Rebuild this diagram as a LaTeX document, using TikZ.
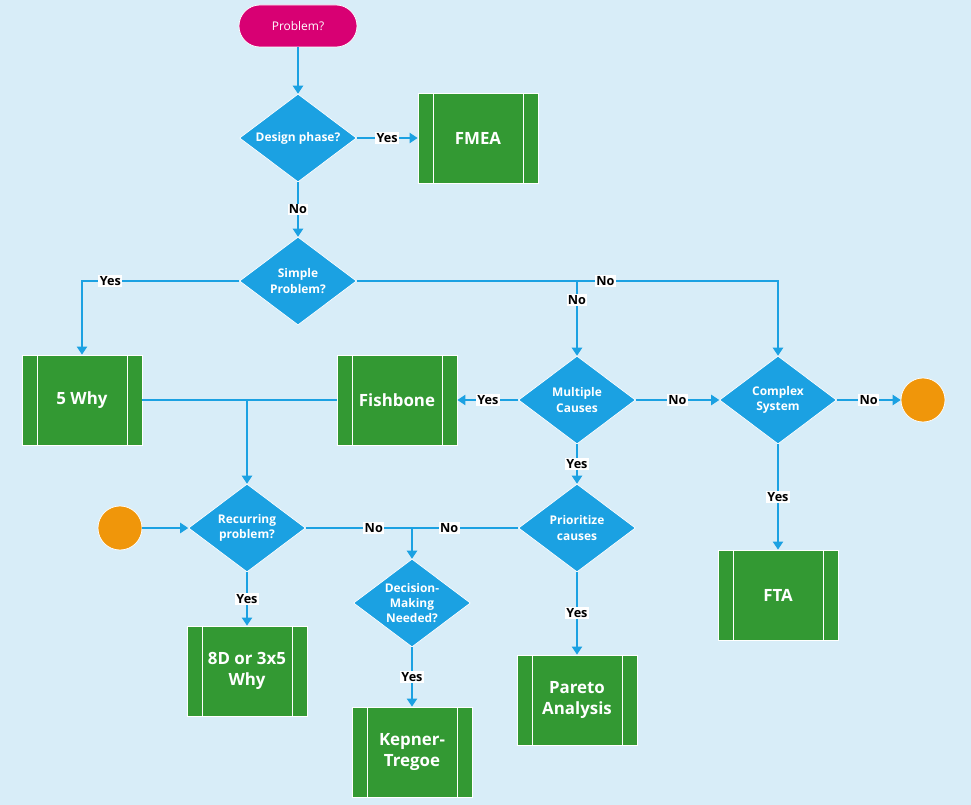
\documentclass[tikz,border=0pt]{standalone}
\usepackage{fontspec}
\setmainfont{Open Sans}
\usepackage{xcolor}
\usepackage{tikz}
\usetikzlibrary{arrows.meta,positioning,shapes.geometric,backgrounds}
\definecolor{pagebg}{HTML}{D8EDF8}
\definecolor{decblue}{HTML}{1BA1E2}
\definecolor{toolgreen}{HTML}{339933}
\definecolor{startpink}{HTML}{D80073}
\definecolor{endorange}{HTML}{F0960A}
\tikzset{
  tool/.style   ={rectangle,draw=white,line width=0.6pt,fill=toolgreen,
                  minimum width=30mm,minimum height=22.5mm,align=center,text=white,
                  font=\fontsize{12}{14.5}\selectfont\bfseries,
                  path picture={\draw[white,line width=0.6pt]
                    ([xshift=3.75mm]path picture bounding box.north west) -- ([xshift=3.75mm]path picture bounding box.south west)
                    ([xshift=-3.75mm]path picture bounding box.north east) -- ([xshift=-3.75mm]path picture bounding box.south east);}},
  ask/.style    ={diamond,aspect=1.33,draw=white,line width=0.5pt,fill=decblue,
                  minimum width=29.25mm,minimum height=22mm,inner sep=0pt,align=center,
                  text=white,font=\fontsize{8.5}{11}\selectfont\bfseries},
  terminal/.style={rectangle,rounded corners=5.25mm,draw=white,line width=0.5pt,fill=startpink,
                  minimum width=29.5mm,minimum height=10.5mm,text=white,
                  font=\fontsize{8.5}{10}\selectfont},
  stopdot/.style={circle,draw=white,line width=0.5pt,fill=endorange,minimum size=11mm,inner sep=0pt},
  flow/.style   ={-{Triangle[length=2mm,width=2.6mm]},line width=0.8pt,draw=decblue},
  link/.style   ={line width=0.8pt,draw=decblue},
  lbl/.style    ={fill=white,inner sep=1pt,text=black,font=\fontsize{9}{10}\selectfont\bfseries}
}
\begin{document}
\begin{tikzpicture}[node distance=10mm,on grid]
  \useasboundingbox (-7.45,0.65) rectangle (16.825,-19.475);
  \node[terminal] (problem) at (0,0) {Problem?};
  \node[ask,below=28mm of problem] (design) {Design phase?};
  \node[tool,right=45mm of design] (fmea) {FMEA};
  \node[ask,below=35.75mm of design] (simple) {Simple\\Problem?};
  \node[ask,below right=29.75mm and 69.75mm of simple] (multi) {Multiple\\Causes};
  \node[tool,left=45mm of multi] (fishbone) {Fishbone};
  \node[tool,left=78.75mm of fishbone] (fivewhy) {5 Why};
  \node[ask,right=50.25mm of multi] (complex) {Complex\\System};
  \node[stopdot,right=36.25mm of complex] (stopR) {};
  \node[tool,below=48.75mm of complex] (fta) {FTA};
  \node[ask,below=32mm of multi] (prio) {Prioritize\\causes};
  \node[tool,below=43mm of prio] (pareto) {Pareto\\Analysis};
  \node[ask,below left=18.75mm and 41.25mm of prio] (decide) {Decision-\\Making\\Needed?};
  \node[tool,below=37.25mm of decide] (kepner) {Kepner-\\Tregoe};
  \node[ask,left=82.5mm of prio] (recur) {Recurring\\problem?};
  \node[tool,below=35.75mm of recur] (eightd) {8D or 3x5\\Why};
  \node[stopdot,left=31.75mm of recur] (stopL) {};
  % top part
  \draw[flow] (problem) -- (design);
  \draw[flow] (design) -- node[lbl]{Yes} (fmea);
  \draw[flow] (design) -- node[lbl]{No} (simple);
  \draw[flow] (simple) -| node[lbl,pos=0.41]{Yes} (fivewhy);
  \draw[flow] (simple) -| node[lbl,pos=0.295]{No} (complex);
  \draw[flow] (simple.east -| multi) -- node[lbl,pos=0.25]{No} (multi);
  % middle row
  \draw[flow] (multi) -- node[lbl]{Yes} (fishbone);
  \draw[flow] (multi) -- node[lbl]{No} (complex);
  \draw[flow] (complex) -- node[lbl]{No} (stopR);
  \draw[flow] (complex) -- node[lbl]{Yes} (fta);
  \draw[flow] (multi) -- node[lbl]{Yes} (prio);
  \draw[flow] (prio) -- node[lbl]{Yes} (pareto);
  % merge into recurring
  \draw[link] (fivewhy) -- (fishbone);
  \draw[flow] (fivewhy -| recur) -- (recur);
  \draw[flow] (stopL) -- (recur);
  \draw[flow] (recur) -- node[lbl]{Yes} (eightd);
  \draw[link] (recur) -- node[lbl,pos=0.64]{No} (recur -| decide) -- node[lbl,pos=0.35]{No} (prio);
  \draw[flow] (recur -| decide) -- (decide);
  \draw[flow] (decide) -- node[lbl]{Yes} (kepner);
  \begin{scope}[on background layer]
    \fill[pagebg] (-7.45,0.65) rectangle (16.825,-19.475);
  \end{scope}
\end{tikzpicture}
\end{document}
